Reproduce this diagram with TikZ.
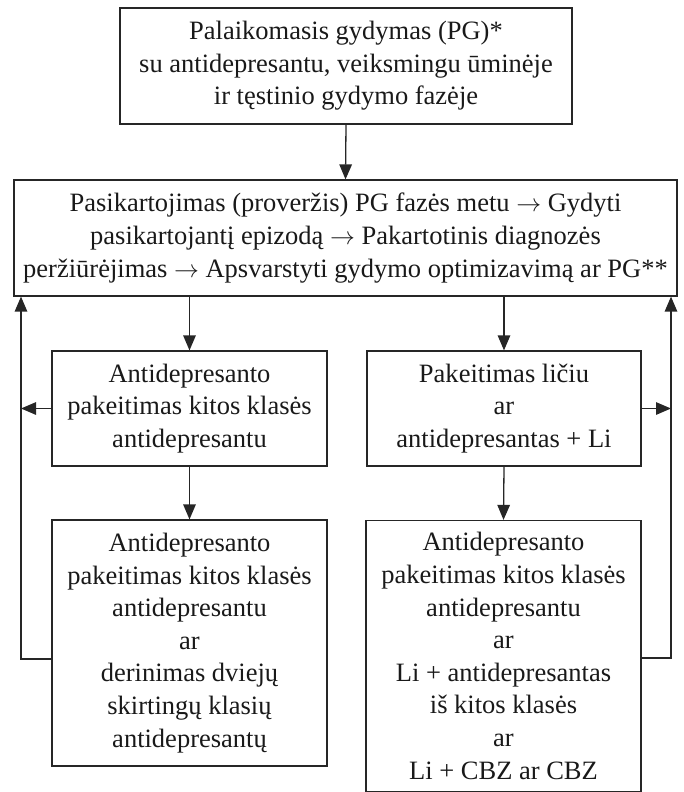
\documentclass[tikz,border=0pt]{standalone}
\usepackage{fontspec}
\setmainfont{Liberation Serif}
\usetikzlibrary{arrows.meta}
\tikzset{
  box/.style={draw=black!85, line width=1.2pt, align=center, inner sep=0pt,
    font=\fontsize{26.5}{32.6}\selectfont, text=black!90},
  arr/.style={draw=black!85, line width=1.3pt, -{Triangle[length=15pt,width=12.5pt]}},
}
\begin{document}
\begin{tikzpicture}[x=1pt,y=-1pt]
\useasboundingbox (0,0) rectangle (684,792);
\node[box, minimum width=452pt, minimum height=116pt] (top) at (346,66)
  {Palaikomasis gydymas (PG)*\\su antidepresantu, veiksmingu ūminėje\\ir tęstinio gydymo fazėje};
\node[box, minimum width=663pt, minimum height=116pt] (main) at (345.5,238)
  {Pasikartojimas (proveržis) PG fazės metu $\rightarrow$ Gydyti\\pasikartojantį epizodą $\rightarrow$ Pakartotinis diagnozės\\peržiūrėjimas $\rightarrow$ Apsvarstyti gydymo optimizavimą ar PG**};
\node[box, minimum width=275pt, minimum height=115pt] (ml) at (189.5,408.5)
  {Antidepresanto\\pakeitimas kitos klasės\\antidepresantu};
\node[box, minimum width=274pt, minimum height=115pt] (mr) at (504,408.5)
  {Pakeitimas ličiu\\ar\\antidepresantas + Li};
\node[box, minimum width=275pt, minimum height=246pt] (bl) at (189.5,643)
  {Antidepresanto\\pakeitimas kitos klasės\\antidepresantu\\ar\\derinimas dviejų\\skirtingų klasių\\antidepresantų};
\node[box, minimum width=275pt, minimum height=271pt] (br) at (503.5,656)
  {Antidepresanto\\pakeitimas kitos klasės\\antidepresantu\\ar\\Li + antidepresantas\\iš kitos klasės\\ar\\Li + CBZ ar CBZ};
\coordinate (lb) at (21,659);
\coordinate (rb) at (671,658);
\draw[arr] (top.south) -- (main.north);
\draw[arr] (main.south -| ml.north) -- (ml.north);
\draw[arr] (main.south -| mr.north) -- (mr.north);
\draw[arr] (ml.south) -- (bl.north);
\draw[arr] (mr.south) -- (br.north);
\draw[arr] (ml.west) -- (ml.west -| lb);
\draw[arr] (mr.east) -- (mr.east -| rb);
\draw[arr] (lb -| bl.west) -- (lb) -- (lb |- main.south);
\draw[arr] (rb -| br.east) -- (rb) -- (rb |- main.south);
\end{tikzpicture}
\end{document}
